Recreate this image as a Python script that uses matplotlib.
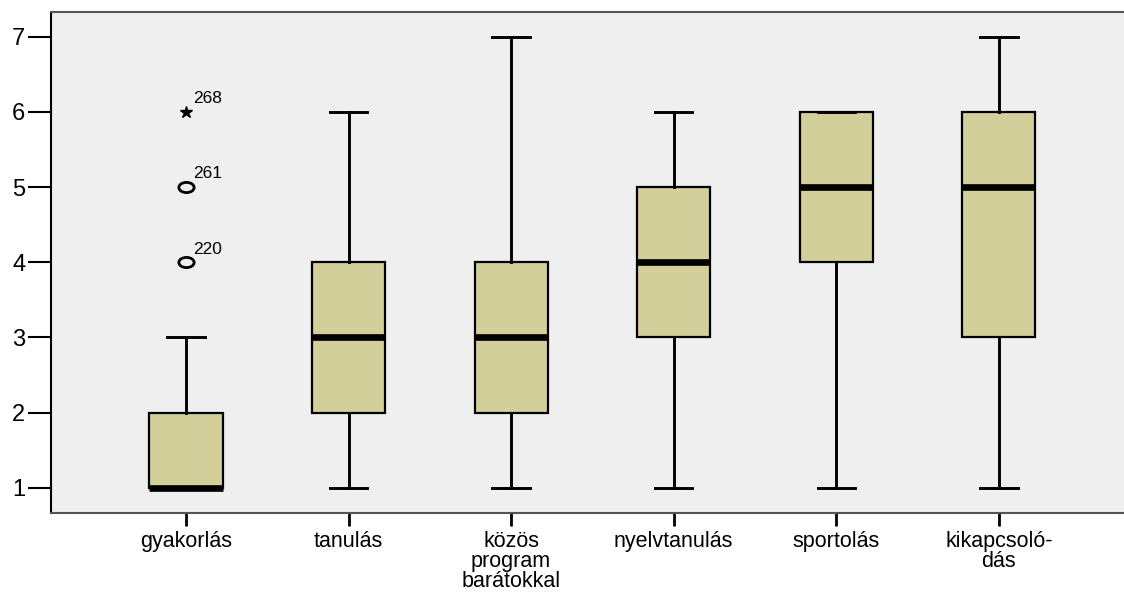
import numpy as np
import matplotlib.pyplot as plt
from matplotlib.path import Path
from matplotlib.transforms import Affine2D

plt.rcParams['font.family'] = ['Liberation Sans', 'DejaVu Sans']

# Box summary values
categories = ['gyakorlás', 'tanulás', 'közös\nprogram\nbarátokkal',
              'nyelvtanulás', 'sportolás', 'kikapcsoló-\ndás']
whisker_low = [1, 1, 1, 1, 1, 1]
q1 = [1, 2, 2, 3, 4, 3]
medians = [1, 3, 3, 4, 5, 5]
q3 = [2, 4, 4, 5, 6, 6]
whisker_high = [3, 6, 7, 6, 6, 7]

# outliers of the first box (value, case id)
outlier_vals = [4, 5]
outlier_ids = ['220', '261']
extreme_vals = [6]
extreme_ids = ['268']

stats = []
for i, name in enumerate(categories):
    stats.append({
        'label': name,
        'whislo': whisker_low[i],
        'q1': q1[i],
        'med': medians[i],
        'q3': q3[i],
        'whishi': whisker_high[i],
        'fliers': outlier_vals if i == 0 else [],
    })

# slightly wide ellipse like the SPSS "o" marker
ellipse = Path.unit_circle().transformed(Affine2D().scale(1.5, 1.0))

fig = plt.figure(figsize=(11.24, 5.93), dpi=100)
ax = fig.add_axes([0.0454, 0.135, 0.9546, 0.845])
ax.set_facecolor('#efefef')

positions = np.arange(len(categories))
ax.bxp(stats, positions=positions, widths=0.45, patch_artist=True,
       showcaps=True, showfliers=True,
       boxprops=dict(facecolor='#d3cf9a', edgecolor='black', linewidth=1.6),
       medianprops=dict(color='black', linewidth=4.8, solid_capstyle='butt'),
       whiskerprops=dict(color='black', linewidth=2.1),
       capprops=dict(color='black', linewidth=2.1),
       capwidths=0.23,
       flierprops=dict(marker=ellipse, markersize=11, markerfacecolor='none',
                       markeredgecolor='black', markeredgewidth=2.0, linestyle='none'))

ax.plot([0] * len(extreme_vals), extreme_vals, marker='*', markersize=9,
        color='black', linestyle='none')

for v, lab in zip(outlier_vals + extreme_vals, outlier_ids + extreme_ids):
    ax.annotate(lab, (0, v), xytext=(5, 4), textcoords='offset points',
                fontsize=12.5, ha='left', va='bottom')

ax.set_xlim(-0.83, 5.77)
ax.set_ylim(0.664, 7.33)
ax.set_yticks([1, 2, 3, 4, 5, 6, 7])
ax.set_xticks(positions)
ax.set_xticklabels(categories, fontsize=15.5, linespacing=0.95)

ax.tick_params(axis='y', length=16.5, width=1.5, labelsize=17, pad=2)
ax.tick_params(axis='x', length=9.5, width=2.0, pad=3.5)

for s in ['top', 'bottom']:
    ax.spines[s].set_color('#555555')
    ax.spines[s].set_linewidth(1.5)
ax.spines['left'].set_color('black')
ax.spines['left'].set_linewidth(1.5)
ax.spines['right'].set_visible(False)

fig.savefig('out.png', dpi=100)
